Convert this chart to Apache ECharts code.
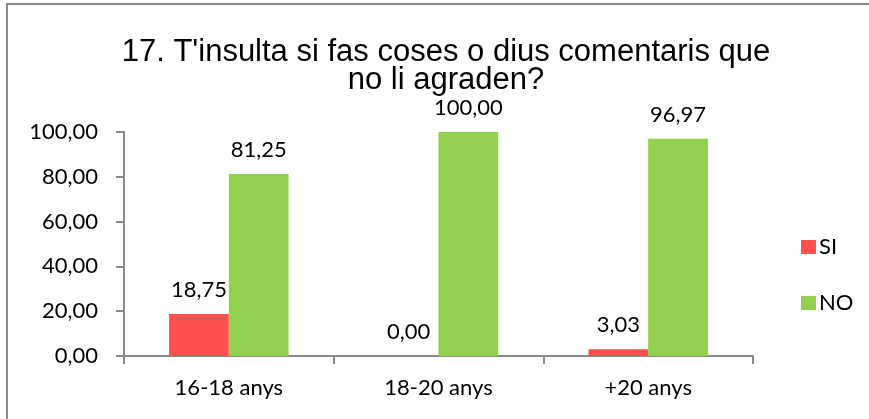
<!DOCTYPE html>
<html>
<head>
    <meta charset="UTF-8">
    <title>17. T'insulta si fas coses o dius comentaris que no li agraden?</title>
    <script src="https://cdn.jsdelivr.net/npm/echarts@6/dist/echarts.min.js"></script>
    <style>
        body { margin: 0; background: #fff; }
    </style>
</head>
<body>
    <div id="chart" style="width:869px; height:419px;"></div>
    <script>
        var categories = ['16-18 anys', '18-20 anys', '+20 anys'];
        var siValues = [18.75, 0.00, 3.03];
        var noValues = [81.25, 100.00, 96.97];
        var yTicks = [0, 20, 40, 60, 80, 100];

        function fmt(v) {
            return v.toFixed(2).replace('.', ',');
        }

        var chart = echarts.init(document.getElementById('chart'), null, {renderer: 'canvas'});

        var labelFont = {fontFamily: 'Lato, Carlito, sans-serif', fontSize: 22, color: '#000'};

        chart.setOption({
            animation: false,
            title: {
                text: "17. T'insulta si fas coses o dius comentaris que\nno li agraden?",
                left: 441,
                textAlign: 'center',
                top: 33,
                textStyle: {
                    fontFamily: 'Liberation Sans, Arial, sans-serif',
                    fontSize: 31,
                    fontWeight: 'normal',
                    color: '#000',
                    lineHeight: 28
                }
            },
            legend: {
                orient: 'vertical',
                left: 796,
                top: 231,
                itemWidth: 15,
                itemHeight: 14,
                itemGap: 34,
                icon: 'rect',
                textStyle: {fontFamily: 'Lato, Carlito, sans-serif', fontSize: 22, color: '#000', padding: [0, 0, 0, -2]},
                data: ['SI', 'NO']
            },
            grid: {left: 124, right: 116, top: 132, bottom: 63},
            xAxis: {
                type: 'category',
                data: categories,
                axisLine: {lineStyle: {color: '#888', width: 2}},
                axisTick: {show: true, length: 8, lineStyle: {color: '#888', width: 2}},
                axisLabel: Object.assign({margin: 21}, labelFont)
            },
            yAxis: {
                type: 'value',
                min: yTicks[0],
                max: yTicks[yTicks.length - 1],
                interval: 20,
                axisLine: {show: true, lineStyle: {color: '#888', width: 2}},
                axisTick: {show: true, length: 8, lineStyle: {color: '#888', width: 2}},
                splitLine: {show: false},
                axisLabel: Object.assign({margin: 26, formatter: function (v) { return fmt(v); }}, labelFont)
            },
            series: [
                {
                    name: 'SI',
                    type: 'bar',
                    data: siValues,
                    barGap: '0%',
                    barCategoryGap: '43%',
                    itemStyle: {color: '#ff5050'},
                    label: Object.assign({show: true, position: 'top', distance: 13,
                        formatter: function (p) { return fmt(p.value); }}, labelFont)
                },
                {
                    name: 'NO',
                    type: 'bar',
                    data: noValues,
                    barGap: '0%',
                    barCategoryGap: '43%',
                    itemStyle: {color: '#92d050'},
                    label: Object.assign({show: true, position: 'top', distance: 13,
                        formatter: function (p) { return fmt(p.value); }}, labelFont)
                }
            ],
            graphic: [
                {type: 'line', shape: {x1: 6, y1: 4, x2: 869, y2: 4}, style: {stroke: '#898989', lineWidth: 2}},
                {type: 'line', shape: {x1: 7, y1: 4, x2: 7, y2: 419}, style: {stroke: '#898989', lineWidth: 2}}
            ]
        });
    </script>
</body>
</html>
